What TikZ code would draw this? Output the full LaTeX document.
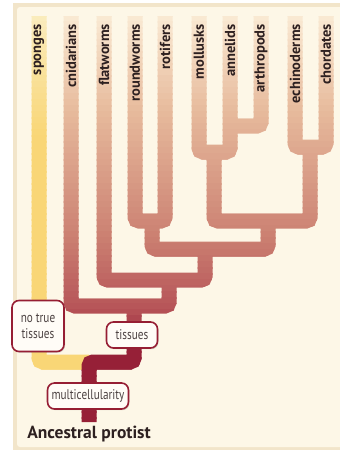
\documentclass[tikz,border=0pt]{standalone}
\usepackage{fontspec}
\setmainfont{PT Sans}
\newfontfamily\cladefont[FakeStretch=0.8]{PT Sans}
\usepackage{tikz}
\usetikzlibrary{positioning,shadows}
\definecolor{ink}{RGB}{45,32,32}
\definecolor{panel}{RGB}{253,247,231}
\definecolor{panelrim}{RGB}{242,229,202}
\definecolor{cladeedge}{RGB}{150,30,52}
\definecolor{cladefill}{RGB}{255,252,247}
% colour stops of the tree, top to bottom
\definecolor{stopA}{RGB}{250,234,212}
\definecolor{stopB}{RGB}{231,187,157}
\definecolor{stopC}{RGB}{205,132,116}
\definecolor{stopD}{RGB}{182,84,88}
\definecolor{stopE}{RGB}{150,32,55}
\definecolor{spongeA}{RGB}{250,236,190}
\definecolor{spongeB}{RGB}{249,214,118}

\newcommand{\treepath}{%
  (cnidarians) |- (C) -| (F)
  (flatworms) |- (F) -| (B)
  (roundworms) |- (R) -| (rotifers)
  (R) |- (B) -| (LD)
  (mollusks) |- (M) -| (annelids)
  (arthropods) |- (A)
  (M) |- (LD) -| (D)
  (echinoderms) |- (D) -| (chordates)
  (C) |- (T) -- (root)}

\begin{document}
\begin{tikzpicture}[x=1pt,y=-1pt,
  branch/.style={line width=15pt,rounded corners=4pt},
  taxon/.style={rotate=90,anchor=east,inner sep=0pt,text=ink,font=\fontsize{14.5}{16}\selectfont\bfseries},
  clade/.style={draw=cladeedge,line width=1.6pt,fill=cladefill,rounded corners=7pt,align=center,
    inner xsep=4pt,inner ysep=3pt,minimum height=26pt,text=ink!85,font=\cladefont\fontsize{14}{16}\selectfont,
    drop shadow={shadow xshift=1pt,shadow yshift=-1.2pt,opacity=0.3}}
]
\useasboundingbox (0,0) rectangle (340,450);
\fill[panelrim] (13,3) rectangle (340,450);
\fill[panel,rounded corners=3pt] (17,7) rectangle (344,447);

% tips of the branches
\foreach \x/\tx in {39/sponges,71/cnidarians,104/flatworms,135/roundworms,165/rotifers,
                    199/mollusks,230/annelids,261/arthropods,295/echinoderms,326/chordates}
  \coordinate (\tx) at (\x,16);

% branching points
\coordinate (A) at (230,126);
\coordinate (M) at (214,152);
\coordinate (D) at (310,147);
\coordinate (R) at (152,221);
\coordinate (LD) at (268,221);
\coordinate (B) at (205,249);
\coordinate (F) at (169,280);
\coordinate (C) at (134,306);
\coordinate (T) at (89,362);
\coordinate (root) at (89,422);

% tree, coloured band by band
\foreach \y in {10,16,...,448} {
  \pgfmathsetmacro\ym{\y+3}
  \ifdim\ym pt<110pt
    \pgfmathtruncatemacro\pct{max(0,(\ym-16)/94*100)}\colorlet{band}{stopB!\pct!stopA}
  \else\ifdim\ym pt<230pt
    \pgfmathtruncatemacro\pct{(\ym-110)/120*100}\colorlet{band}{stopC!\pct!stopB}
  \else\ifdim\ym pt<310pt
    \pgfmathtruncatemacro\pct{(\ym-230)/80*100}\colorlet{band}{stopD!\pct!stopC}
  \else
    \pgfmathtruncatemacro\pct{min(100,(\ym-310)/35*100)}\colorlet{band}{stopE!\pct!stopD}
  \fi\fi\fi
  \pgfmathtruncatemacro\spct{min(100,max(0,(\ym-16)/120*100))}
  \colorlet{sband}{spongeB!\spct!spongeA}
  \begin{scope}
    \clip (0,\y-0.4) rectangle (340,\y+6.4);
    \draw[branch,sband] (sponges) |- (T);
    \draw[branch,band] \treepath;
  \end{scope}
}

% names of the groups
\foreach \tx in {sponges,cnidarians,flatworms,roundworms,rotifers,
                 mollusks,annelids,arthropods,echinoderms,chordates}
  \node[taxon] (l-\tx) at ([yshift=-8pt]\tx) {\tx};

\node[clade,minimum width=51pt] (tissues) at (132,335) {tissues};
\node[clade,minimum width=52pt,minimum height=51pt] (notissues) at (38,326) {no true\\tissues};
\node[clade] (multi) at (88,396) {multicellularity};
\node[below=4pt of root,inner sep=0pt,text=ink,font=\fontsize{17.5}{20}\selectfont\bfseries] (protist) {Ancestral protist};
\end{tikzpicture}
\end{document}
